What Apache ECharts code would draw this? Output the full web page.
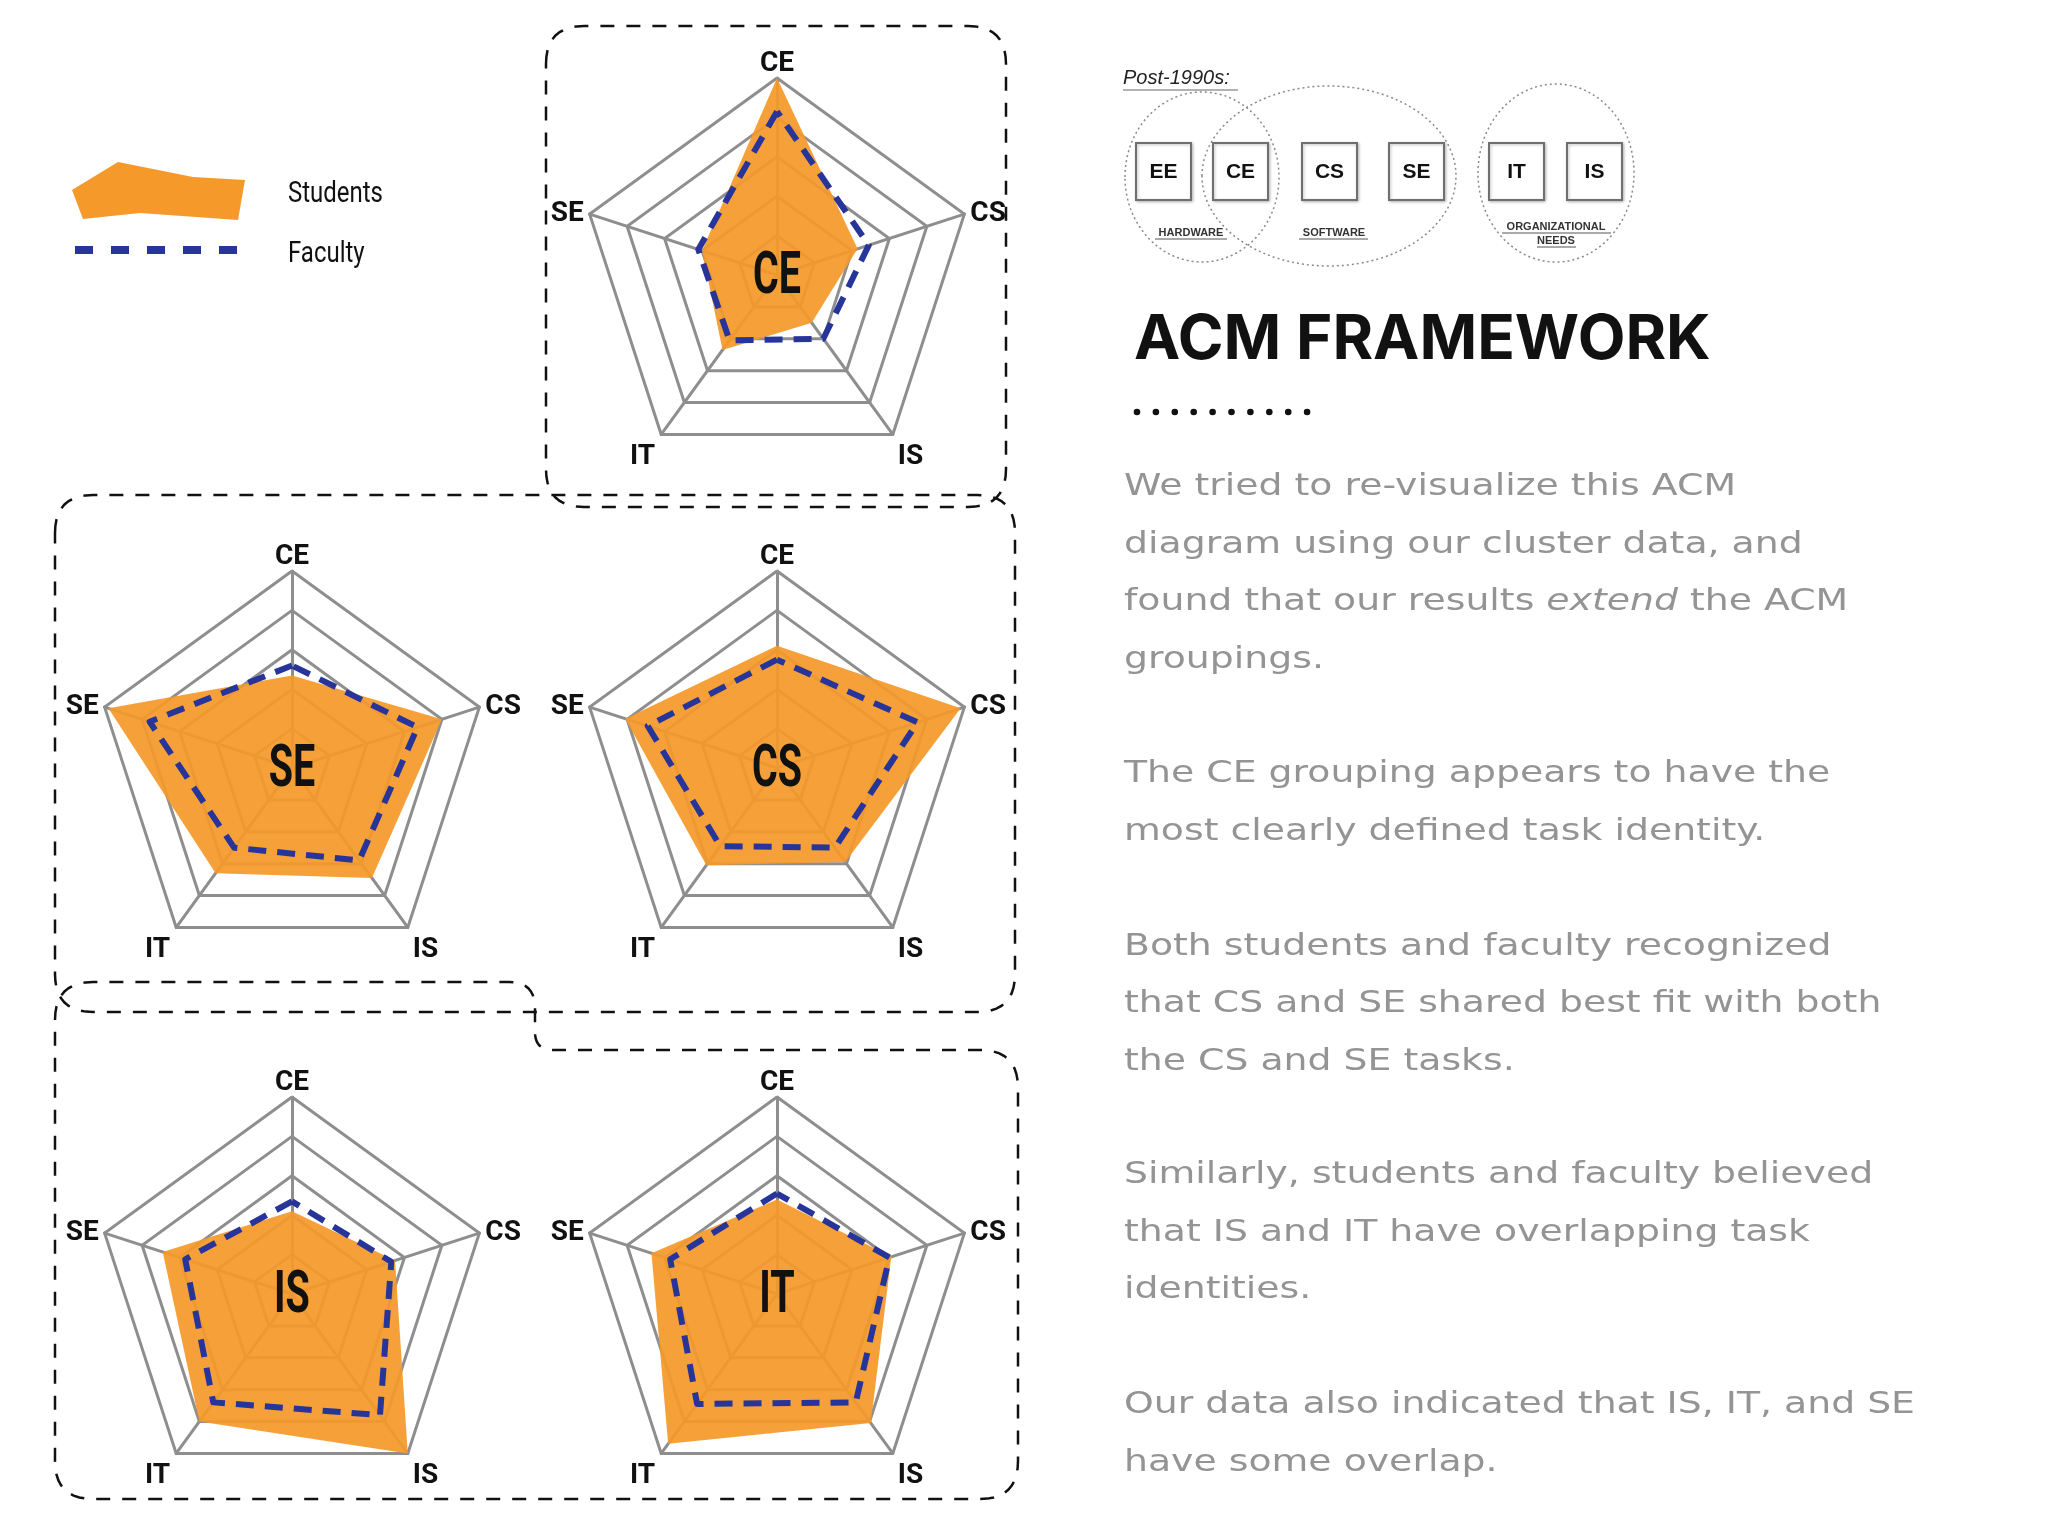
<!DOCTYPE html>
<html><head><meta charset="utf-8">
<script src="https://cdn.jsdelivr.net/npm/echarts@6/dist/echarts.min.js"></script>
<style>html,body{margin:0;padding:0;background:#fff}#chart{width:2048px;height:1536px}</style>
</head><body><div id="chart"></div>
<script>
// ---------- data ----------
const axes = ['CE', 'SE', 'IT', 'IS', 'CS'];          // radar indicator order (counter-clockwise from top)
const clusters = ['CE', 'SE', 'CS', 'IS', 'IT'];
const axisMax = 5;
// values in axis order CE, SE, IT, IS, CS
const studentsCE = [5.0, 2.0, 2.35, 1.5, 2.15];
const facultyCE  = [4.15, 2.1, 2.05, 2.0, 2.45];
const studentsSE = [2.35, 4.9, 3.3, 3.45, 4.0];
const facultySE  = [2.6, 3.8, 2.5, 2.9, 3.35];
const studentsCS = [3.1, 4.05, 3.05, 2.95, 4.9];
const facultyCS  = [2.75, 3.45, 2.45, 2.5, 3.75];
const studentsIS = [2.1, 3.45, 4.0, 5.0, 2.75];
const facultyIS  = [2.35, 2.85, 3.4, 3.8, 2.65];
const studentsIT = [2.4, 3.35, 4.7, 4.05, 3.05];
const facultyIT  = [2.55, 2.85, 3.45, 3.4, 3.0];
const legendNames = ['Students', 'Faculty'];
const acmBoxes = ['EE', 'CE', 'CS', 'SE', 'IT', 'IS'];
const groupLabels = ['HARDWARE', 'SOFTWARE', 'ORGANIZATIONAL', 'NEEDS'];
const titleText = 'ACM FRAMEWORK';
const subTitle = 'Post-1990s:';
const para1 = ['We tried to re-visualize this ACM', 'diagram using our cluster data, and', ['found that our results ', 'extend', ' the ACM'], 'groupings.'];
const para2 = ['The CE grouping appears to have the', 'most clearly defined task identity.'];
const para3 = ['Both students and faculty recognized', 'that CS and SE shared best fit with both', 'the CS and SE tasks.'];
const para4 = ['Similarly, students and faculty believed', 'that IS and IT have overlapping task', 'identities.'];
const para5 = ['Our data also indicated that IS, IT, and SE', 'have some overlap.'];

const studentVals = {CE: studentsCE, SE: studentsSE, CS: studentsCS, IS: studentsIS, IT: studentsIT};
const facultyVals = {CE: facultyCE, SE: facultySE, CS: facultyCS, IS: facultyIS, IT: facultyIT};

// ---------- layout / style ----------
const ORANGE = '#F5992B';
const NAVY = '#27359A';
const GRID = '#8e8e8e';
const COND = 'Roboto, "Liberation Sans", sans-serif';
const BODY = '"DejaVu Sans", sans-serif';
const radarCenters = {CE: [777, 275], SE: [292, 768], CS: [777, 768], IS: [292, 1294], IT: [777, 1294]};
const R = 197;

const mctx = document.createElement('canvas').getContext('2d');
function measure(text, font) { mctx.font = font; return mctx.measureText(text).width; }

function roundedPoints(verts, radii, steps) {
  const pts = [], n = verts.length;
  for (let i = 0; i < n; i++) {
    const p = verts[i], a = verts[(i - 1 + n) % n], b = verts[(i + 1) % n], r = radii[i];
    const d1 = Math.hypot(a[0] - p[0], a[1] - p[1]), d2 = Math.hypot(b[0] - p[0], b[1] - p[1]);
    const s = [p[0] + (a[0] - p[0]) * r / d1, p[1] + (a[1] - p[1]) * r / d1];
    const e = [p[0] + (b[0] - p[0]) * r / d2, p[1] + (b[1] - p[1]) * r / d2];
    for (let k = 0; k <= steps; k++) {
      const t = k / steps;
      pts.push([(1 - t) * (1 - t) * s[0] + 2 * (1 - t) * t * p[0] + t * t * e[0],
                (1 - t) * (1 - t) * s[1] + 2 * (1 - t) * t * p[1] + t * t * e[1]]);
    }
  }
  return pts;
}
const dashBox = (verts, radii) => ({
  type: 'polygon', silent: true, z: 0,
  shape: {points: roundedPoints(verts, radii, 10)},
  style: {fill: 'none', stroke: '#111', lineWidth: 2.5, lineDash: [14, 12]}
});

const graphics = [];
// dashed group boxes
graphics.push(dashBox([[546, 26], [1006, 26], [1006, 507], [546, 507]], [38, 38, 38, 38]));
graphics.push(dashBox([[55, 495], [1015, 495], [1015, 1012], [55, 1012]], [38, 38, 38, 38]));
graphics.push(dashBox([[55, 982], [535, 982], [535, 1050], [1018, 1050], [1018, 1499], [55, 1499]], [38, 26, 18, 38, 38, 38]));

// big center labels (condensed look via horizontal scale)
const bigFont = 'bold 60px Roboto, "Liberation Sans", sans-serif';
const bigScale = 48 / measure('CE', bigFont);
clusters.forEach(c => {
  graphics.push({type: 'text', silent: true, z: 10, x: radarCenters[c][0], y: radarCenters[c][1] + 3, scaleX: bigScale,
    style: {text: c, fill: '#111', fontFamily: COND, fontWeight: 'bold', fontSize: 60, align: 'center', verticalAlign: 'middle'}});
});

// legend
graphics.push({type: 'polygon', silent: true, shape: {points: [[72, 190], [118, 162], [193, 177], [245, 180], [238, 220], [140, 213], [83, 219]]},
  style: {fill: ORANGE}});
graphics.push({type: 'line', silent: true, shape: {x1: 75, y1: 250, x2: 240, y2: 250},
  style: {stroke: NAVY, lineWidth: 8, lineDash: [18, 18]}});
const legScale = 95 / measure('Students', '30px Roboto, "Liberation Sans", sans-serif');
graphics.push({type: 'text', silent: true, x: 288, y: 194, scaleX: legScale, style: {text: legendNames[0], fill: '#111', fontFamily: COND, fontSize: 30, verticalAlign: 'middle'}});
graphics.push({type: 'text', silent: true, x: 288, y: 254, scaleX: legScale, style: {text: legendNames[1], fill: '#111', fontFamily: COND, fontSize: 30, verticalAlign: 'middle'}});

// ACM diagram
graphics.push({type: 'text', silent: true, x: 1123, y: 78, style: {text: subTitle, fill: '#222', fontFamily: '"Liberation Sans", Arial, sans-serif', fontStyle: 'italic', fontSize: 20, verticalAlign: 'middle'}});
graphics.push({type: 'line', silent: true, shape: {x1: 1123, y1: 90, x2: 1238, y2: 90}, style: {stroke: '#999', lineWidth: 1.5}});
[[1202, 177, 77, 85], [1329, 176, 127, 90], [1556, 173, 78, 89]].forEach(e => {
  graphics.push({type: 'ellipse', silent: true, shape: {cx: e[0], cy: e[1], rx: e[2], ry: e[3]},
    style: {fill: 'none', stroke: '#8a8a8a', lineWidth: 1.5, lineDash: [2, 3]}});
});
const boxX = [1136, 1213, 1302, 1389, 1489, 1567];
acmBoxes.forEach((b, i) => {
  graphics.push({type: 'rect', silent: true, shape: {x: boxX[i], y: 143, width: 55, height: 57},
    style: {fill: '#fff', stroke: '#6f6f6f', lineWidth: 2, shadowBlur: 3, shadowColor: 'rgba(0,0,0,0.25)', shadowOffsetX: 1, shadowOffsetY: 1}});
  graphics.push({type: 'text', silent: true, x: boxX[i] + 27.5, y: 172,
    style: {text: b, fill: '#111', fontFamily: '"Liberation Sans", Arial, sans-serif', fontWeight: 'bold', fontSize: 21, align: 'center', verticalAlign: 'middle'}});
});
const glPos = [[1191, 233], [1334, 233], [1556, 227], [1556, 241]];
groupLabels.forEach((g, i) => {
  graphics.push({type: 'text', silent: true, x: glPos[i][0], y: glPos[i][1],
    style: {text: g, fill: '#333', fontFamily: '"Liberation Sans", Arial, sans-serif', fontWeight: 'bold', fontSize: 11, align: 'center', verticalAlign: 'middle'}});
});
[[1155, 1227, 239], [1299, 1368, 239], [1502, 1611, 233], [1537, 1576, 247]].forEach(u => {
  graphics.push({type: 'line', silent: true, shape: {x1: u[0], y1: u[2], x2: u[1], y2: u[2]}, style: {stroke: '#555', lineWidth: 1}});
});

// title + dots
graphics.push({type: 'text', silent: true, x: 1134, y: 340,
  style: {text: titleText, fill: '#111', fontFamily: 'Inter, "Open Sans", sans-serif', fontWeight: 'bold', fontSize: 62, verticalAlign: 'middle'}});
for (let i = 0; i < 10; i++) {
  graphics.push({type: 'circle', silent: true, shape: {cx: 1137 + i * 18.9, cy: 412, r: 3.3}, style: {fill: '#111'}});
}

// paragraphs (wide geometric look via horizontal scale)
const PFONT = 30, PLH = 57.5, PCOL = '#949494', PW = 'normal';
const pScale = 791 / measure(para5[0], PFONT + 'px "DejaVu Sans", sans-serif');
function para(lines, top) {
  const txt = lines.map(l => Array.isArray(l) ? ('{n|' + l[0] + '}{i|' + l[1] + '}{n|' + l[2] + '}') : ('{n|' + l + '}')).join('\n');
  return {type: 'text', silent: true, x: 1124, y: top, scaleX: pScale,
    style: {text: txt, verticalAlign: 'top', lineHeight: PLH,
      rich: {
        n: {fill: PCOL, fontFamily: BODY, fontWeight: PW, fontSize: PFONT, lineHeight: PLH},
        i: {fill: PCOL, fontFamily: BODY, fontWeight: PW, fontStyle: 'italic', fontSize: PFONT, lineHeight: PLH}
      }}};
}
graphics.push(para(para1, 458.5));
graphics.push(para(para2, 745.8));
graphics.push(para(para3, 918.2));
graphics.push(para(para4, 1146.7));
graphics.push(para(para5, 1376.6));

// ---------- chart ----------
const NAME_STYLE = {color: '#111', fontFamily: COND, fontWeight: 'bold', fontSize: 28};
const chart = echarts.init(document.getElementById('chart'), null, {renderer: 'canvas'});
chart.setOption({
  animation: false,
  backgroundColor: '#ffffff',
  radar: clusters.map(c => ({
    center: radarCenters[c], radius: R, shape: 'polygon', splitNumber: 5, startAngle: 90,
    indicator: axes.map(a => ({name: a, min: 0, max: axisMax})),
    nameGap: 0,
    axisName: Object.assign({}, NAME_STYLE, {
      formatter: n => '{' + n.toLowerCase() + '|' + n + '}',
      rich: {
        ce: Object.assign({}, NAME_STYLE),
        se: Object.assign({padding: [0, 6, 0, 0]}, NAME_STYLE),
        cs: Object.assign({padding: [0, 0, 0, 6]}, NAME_STYLE),
        it: Object.assign({padding: [46, 6, 0, 0]}, NAME_STYLE),
        is: Object.assign({padding: [46, 0, 0, 5]}, NAME_STYLE)
      }
    }),
    splitLine: {lineStyle: {color: GRID, width: 3}},
    splitArea: {show: false},
    axisLine: {lineStyle: {color: GRID, width: 3}},
    axisTick: {show: false},
    axisLabel: {show: false}
  })),
  series: clusters.map((c, i) => ({
    type: 'radar', radarIndex: i, symbol: 'none', silent: true, z: 3,
    data: [
      {name: legendNames[0], value: studentVals[c],
        areaStyle: {color: ORANGE, opacity: 0.93}, lineStyle: {width: 0, opacity: 0, color: ORANGE}},
      {name: legendNames[1], value: facultyVals[c],
        lineStyle: {color: NAVY, width: 6, type: [18, 11]}}
    ]
  })),
  graphic: graphics
});
</script></body></html>
